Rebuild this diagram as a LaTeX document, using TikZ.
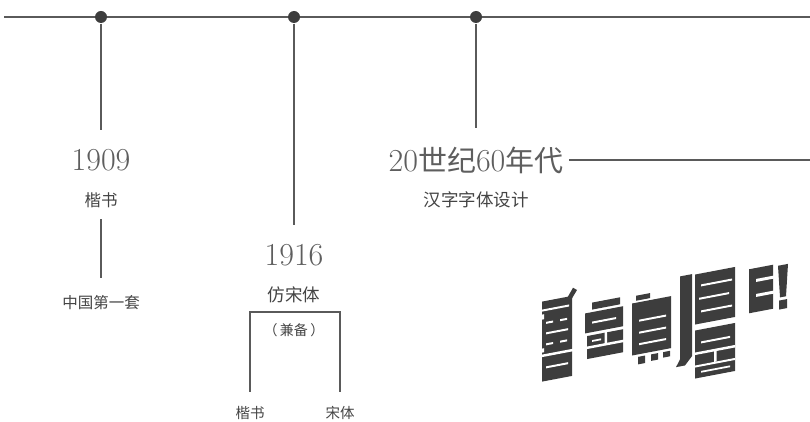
\documentclass[tikz,border=0pt]{standalone}
\usepackage{fontspec}
\newfontfamily\cjk{Noto Sans CJK SC}
\usepackage{xcolor}
\usepackage{tikz}
\usetikzlibrary{positioning}
\definecolor{ink}{HTML}{444444}
\definecolor{soft}{HTML}{5E5E5E}
\definecolor{rule}{HTML}{5A5A5A}
\definecolor{logo}{HTML}{3D3D3D}

\begin{document}
\begin{tikzpicture}[x=1pt, y=-1pt, node distance=40pt, on grid, line width=1.2pt,
  dot/.style={circle, fill=logo, minimum size=12pt, inner sep=0pt},
  year/.style={text=soft, font=\fontsize{32}{32}\selectfont, inner sep=2pt, outer ysep=17pt, outer xsep=4pt},
  note/.style={text=ink, font=\cjk\fontsize{14.5}{14.5}\selectfont, inner sep=3pt}]
  \useasboundingbox (0,0) rectangle (810,422);

  % timeline
  \coordinate (start) at (4,17);
  \coordinate (end) at (810,17);
  \draw[rule, line width=1.6pt] (start) -- (end);
  \node[dot] (d1909) at (101,17) {};
  \node[dot] (d1916) at (294,17) {};
  \node[dot] (d1960) at (476,17) {};

  % 1909
  \node[year] (y1909) at (101,160) {1909};
  \node[note, font=\cjk\fontsize{16.5}{16.5}\selectfont] (kai1909) [below=of y1909] {楷书};
  \node[note, font=\cjk\fontsize{15.5}{15.5}\selectfont] (first1909) [below=103pt of kai1909] {中国第一套};
  \draw[rule] (d1909) -- (y1909);
  \draw[rule, shorten <=8pt, shorten >=14pt] (kai1909) -- (first1909);

  % 1916
  \node[year] (y1916) at (294,255) {1916};
  \node[note, font=\cjk\fontsize{17.5}{17.5}\selectfont] (fang1916) [below=of y1916] {仿宋体};
  \node[note, font=\cjk\fontsize{14}{14}\selectfont] (jian1916) [below=35pt of fang1916] {（\,兼备\,）};
  \node[note] (kai1916) [below left=83pt and 44pt of jian1916] {楷书};
  \node[note] (song1916) [right=90pt of kai1916] {宋体};
  \coordinate (brk1916) at (294,312);
  \draw[rule] (d1916) -- (y1916);
  \draw[rule, shorten <=11pt, shorten >=11pt] (kai1916) |- (brk1916) -| (song1916);

  % 1960s
  \node[year] (y1960) at (476,160) {20{\cjk\fontsize{29}{29}\selectfont 世纪}60{\cjk\fontsize{29}{29}\selectfont 年代}};
  \node[note, font=\cjk\fontsize{17.5}{17.5}\selectfont] (design1960) [below=of y1960] {汉字字体设计};
  \coordinate (end1960) at (810,160);
  \draw[rule] (d1960) -- (y1960);
  \draw[rule] (y1960) -- (end1960);

  % lettering sample
  \begin{scope}[shift={(540,300)}, yslant=0.19, fill=logo]
    % first glyph
    \fill (2,2) rectangle (32,82);
    \fill (26,5) -- (33,-6) -- (37,-3) -- (31,6) -- cycle;
    \fill[white] (0,10) rectangle (29,12);
    \fill[white] (6,23) rectangle (13,25);
    \fill[white] (20,23) rectangle (27,25);
    \fill[white] (6,33.5) rectangle (28,35.5);
    \fill[white] (6,44.5) rectangle (13,46.5);
    \fill[white] (20,44.5) rectangle (27,46.5);
    \fill[white] (0,55) rectangle (34,57.5);
    \fill[white] (6,67.5) rectangle (28,69.5);
    \fill[white] (0,15) rectangle (4,20);
    \fill[white] (0,49) rectangle (4,53);
    % second glyph
    \fill (52,12.5) rectangle (80,19.5);
    \fill (45,22) rectangle (83,42);
    \fill[white] (52,31.5) rectangle (76,33.5);
    \fill (47,45) rectangle (83,68);
    \fill[white] (45,55.5) rectangle (85,58);
    \fill[white] (64.5,44) rectangle (67,56);
    \fill[white] (52,50) rectangle (61,51.8);
    % third glyph
    \fill (96,14) rectangle (110,19);
    \fill (92,21) rectangle (131,73);
    \fill[white] (99,38.5) rectangle (126,40.5);
    \fill[white] (99,50.5) rectangle (126,52.5);
    \fill[white] (99,62) rectangle (126,64);
    \fill (98,75.5) rectangle (105,83);
    \fill (111,75.5) rectangle (118,82);
    \fill (123,75.5) rectangle (130,81);
    % fourth glyph
    \fill (140,3) -- (152,3) -- (152,85) -- (145,93) -- (136,93) -- (140,86) -- cycle;
    \fill (155,4) rectangle (195,54);
    \fill[white] (161,15) rectangle (192,17);
    \fill[white] (159,28) rectangle (189,30);
    \fill[white] (161,41) rectangle (192,43);
    \fill (155,60) rectangle (195,108);
    \fill[white] (161,72) rectangle (190,74);
    \fill[white] (155,82) rectangle (195,84.5);
    \fill[white] (174,84) rectangle (176.5,95);
    \fill[white] (155,95) rectangle (195,97);
    \fill[white] (161,101.5) rectangle (190,103.3);
    % fifth glyph
    \fill (209,9) rectangle (233,53);
    \fill[white] (216,20) rectangle (235,23);
    \fill[white] (216,35) rectangle (235,38);
    % exclamation mark
    \fill (238,11) -- (248,11) -- (246,43) -- (240,43) -- cycle;
    \fill (239,46) rectangle (247,55);
  \end{scope}
\end{tikzpicture}
\end{document}
